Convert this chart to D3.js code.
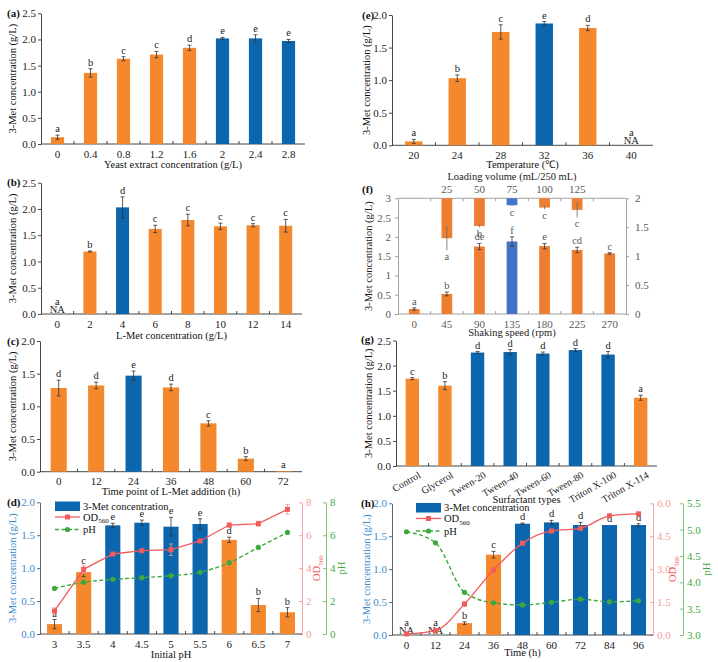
<!DOCTYPE html>
<html><head><meta charset="utf-8">
<script src="https://cdn.jsdelivr.net/npm/d3@7"></script>
<style>body{margin:0;background:#fff}</style>
</head><body>
<script>
// ---------------- data ----------------
const aCats=["0","0.4","0.8","1.2","1.6","2","2.4","2.8"];
const aVals=[0.13,1.36,1.63,1.71,1.84,2.02,2.02,1.97];
const aErrs=[0.04,0.08,0.04,0.06,0.05,0.02,0.07,0.03];
const aLetters=["a","b","c","c","d","e","e","e"];
const aOptimal=[0,0,0,0,0,1,1,1];

const bCats=["0","2","4","6","8","10","12","14"];
const bVals=[null,1.19,2.03,1.62,1.79,1.67,1.69,1.68];
const bErrs=[0,0.01,0.2,0.07,0.11,0.06,0.03,0.12];
const bLetters=["a","b","d","c","c","c","c","c"];
const bOptimal=[0,0,1,0,0,0,0,0];

const cCats=["0","12","24","36","48","60","72"];
const cVals=[1.28,1.32,1.47,1.29,0.74,0.20,0.01];
const cErrs=[0.12,0.05,0.07,0.05,0.04,0.03,0];
const cLetters=["d","d","e","d","c","b","a"];
const cOptimal=[0,0,1,0,0,0,0];

const dCats=["3","3.5","4","4.5","5","5.5","6","6.5","7"];
const dVals=[0.15,0.94,1.65,1.69,1.63,1.67,1.43,0.44,0.33];
const dErrs=[0.07,0.07,0.03,0.04,0.14,0.08,0.04,0.10,0.07];
const dLetters=["a","c","e","e","e","e","d","b","b"];
const dOptimal=[0,0,1,1,1,1,0,0,0];
const dOD=[1.40,3.93,4.86,5.06,5.12,5.65,6.62,6.70,7.57];
const dODErr=[0.2,0.25,0.05,0.05,0.35,0.05,0.08,0.15,0.3];
const dPH=[2.77,3.14,3.32,3.42,3.54,3.75,4.33,5.26,6.17];

const eCats=["20","24","28","32","36","40"];
const eVals=[0.06,1.03,1.74,1.87,1.80,null];
const eErrs=[0.03,0.05,0.11,0.03,0.04,0];
const eLetters=["a","b","c","e","d","a"];
const eOptimal=[0,0,0,1,0,0];

const fSpeedCats=["0","45","90","135","180","225","270"];
const fSpeedVals=[0.13,0.52,1.75,1.88,1.76,1.66,1.57];
const fSpeedErrs=[0.03,0.05,0.08,0.12,0.07,0.07,0.02];
const fSpeedLetters=["a","b","de","f","e","cd","c"];
const fSpeedOptimal=[0,0,0,1,0,0,0];
const fVolCats=["25","50","75","100","125"];
const fVolVals=[1.31,1.52,1.88,1.84,1.80];
const fVolErrs=[0.21,0.02,0.01,0.03,0.13];
const fVolLetters=["a","b","c","c","c"];
const fVolOptimal=[0,0,1,0,0];

const gCats=["Control","Glycerol","Tween-20","Tween-40","Tween-60","Tween-80","Triton X-100","Triton X-114"];
const gVals=[1.74,1.60,2.26,2.27,2.24,2.31,2.22,1.36];
const gErrs=[0.02,0.08,0.02,0.05,0.03,0.03,0.06,0.05];
const gLetters=["c","b","d","d","d","d","d","a"];
const gOptimal=[0,0,1,1,1,1,1,0];

const hCats=["0","12","24","36","48","60","72","84","96"];
const hVals=[null,null,0.18,1.22,1.69,1.71,1.67,1.67,1.67];
const hErrs=[0,0,0.02,0.05,0.01,0.03,0.04,0,0.02];
const hLetters=["a","a","b","c","d","d","d","d","d"];
const hOptimal=[0,0,0,0,1,1,1,1,1];
const hOD=[0.05,0.20,1.41,2.96,4.18,4.74,4.86,5.43,5.52];
const hODErr=[0.02,0.05,0.1,0.05,0.05,0.05,0.05,0.05,0.05];
const hPH=[4.96,4.75,3.81,3.61,3.57,3.62,3.68,3.63,3.65];

// ---------------- style ----------------
const ORANGE="#f5882c", BLUE="#0b66ad";
const XL_ORANGE="#ed7d31", XL_BLUE="#4472c4";
const RED="#f15b5b", RED_AX="#f59a9a", GREEN="#3ea83e", GREEN_AX="#6cbf6c", LBLUE="#3a8bcb";
const FONT="'Liberation Serif','Times New Roman',serif";

const svg=d3.select("body").append("svg").attr("width",718).attr("height",662)
  .style("font-family",FONT);

function styleAxis(sel,lineColor,textColor,fs){
  sel.selectAll("path,line").attr("stroke",lineColor).attr("stroke-width",0.9);
  sel.selectAll("text").attr("fill",textColor).style("font-size",fs+"px").style("font-family",FONT);
}
function label(x,y,t){
  svg.append("text").attr("x",x).attr("y",y).text(t).style("font-size","11px").style("font-weight","bold").attr("fill","#111");
}
function yTitle(x,y,t,color){
  svg.append("text").attr("transform",`translate(${x},${y}) rotate(-90)`).attr("text-anchor","middle")
    .attr("dominant-baseline","middle").style("font-size","10.5px").attr("fill",color||"#111").text(t);
}
function xTitle(x,y,t,color){
  svg.append("text").attr("x",x).attr("y",y).attr("text-anchor","middle").style("font-size","10.5px")
    .attr("fill",color||"#111").text(t);
}

function barsAndLabels(g,x,y,p,cats,vals,errs,letters,opt,frac,cOrange,cBlue,txtColor,bottom){
  const bw=x.bandwidth()*frac;
  cats.forEach((c,i)=>{
    const cx=x(c)+x.bandwidth()/2;
    const v=vals[i];
    if(v===null){
      g.append("text").attr("x",cx).attr("y",bottom-1.5).attr("text-anchor","middle").style("font-size","10.5px").attr("fill",txtColor).text("NA");
      g.append("text").attr("x",cx).attr("y",bottom-9).attr("text-anchor","middle").style("font-size","10.5px").attr("fill",txtColor).text(letters[i]);
      return;
    }
    g.append("rect").attr("x",cx-bw/2).attr("y",y(v)).attr("width",bw).attr("height",y(0)-y(v))
      .attr("fill",opt[i]?cBlue:cOrange);
    const e=errs[i];
    if(e>0){
      g.append("line").attr("x1",cx).attr("x2",cx).attr("y1",y(v-e)).attr("y2",y(v+e)).attr("stroke","#333").attr("stroke-width",0.8);
      [v-e,v+e].forEach(t=>g.append("line").attr("x1",cx-2).attr("x2",cx+2).attr("y1",y(t)).attr("y2",y(t)).attr("stroke","#333").attr("stroke-width",0.8));
    }
    g.append("text").attr("x",cx).attr("y",y(v+e)-3).attr("text-anchor","middle").style("font-size","10.5px")
      .attr("fill",txtColor).text(letters[i]);
  });
}

function bottomAxis(g,x,cats,bottom,left,right,color,textColor,fs,rotate){
  g.append("line").attr("x1",left).attr("x2",right).attr("y1",bottom).attr("y2",bottom).attr("stroke",color).attr("stroke-width",0.9);
  cats.slice(1).forEach(c=>g.append("line").attr("x1",x(c)).attr("x2",x(c)).attr("y1",bottom).attr("y2",bottom-3).attr("stroke",color).attr("stroke-width",0.9));
  cats.forEach(c=>{
    const cx=x(c)+x.bandwidth()/2;
    if(rotate){
      g.append("text").attr("transform",`translate(${cx+9},${bottom+11}) rotate(-30)`).attr("text-anchor","end")
        .style("font-size",fs+"px").attr("fill",textColor).text(c);
    } else {
      g.append("text").attr("x",cx).attr("y",bottom+13.5).attr("text-anchor","middle").style("font-size",fs+"px").attr("fill",textColor).text(c);
    }
  });
}

function simplePanel(p){
  const g=svg.append("g");
  const x=d3.scaleBand().domain(p.cats).range([p.left,p.right]);
  const y=d3.scaleLinear().domain(p.ydom).range([p.bottom,p.top]);
  const ya=g.append("g").attr("transform",`translate(${p.left},0)`)
    .call(d3.axisLeft(y).tickValues(p.yticks).tickFormat(d3.format(".1f")).tickSize(3).tickSizeOuter(0).tickPadding(2));
  styleAxis(ya,"#333","#222",11);
  bottomAxis(g,x,p.cats,p.bottom,p.left,p.right,"#333","#222",p.rotate?10:11,p.rotate);
  barsAndLabels(g,x,y,p,p.cats,p.vals,p.errs,p.letters,p.opt,p.frac,ORANGE,BLUE,"#222",p.bottom);
  label(p.lx,p.ly,p.label);
  yTitle(p.ytx,(p.top+p.bottom)/2,"3-Met concentration (g/L)");
  xTitle((p.left+p.right)/2,p.xty,p.xtitle);
}

simplePanel({cats:aCats,vals:aVals,errs:aErrs,letters:aLetters,opt:aOptimal,left:41,right:305,top:13.3,bottom:144,
  ydom:[0,2.5],yticks:[0,0.5,1,1.5,2,2.5],frac:0.4,label:"(a)",lx:7,ly:17,ytx:14,xty:168,xtitle:"Yeast extract concentration (g/L)"});
simplePanel({cats:bCats,vals:bVals,errs:bErrs,letters:bLetters,opt:bOptimal,left:41,right:302,top:182.7,bottom:314,
  ydom:[0,2.5],yticks:[0,0.5,1,1.5,2,2.5],frac:0.4,label:"(b)",lx:7,ly:186,ytx:14,xty:339,xtitle:"L-Met concentration (g/L)"});
simplePanel({cats:cCats,vals:cVals,errs:cErrs,letters:cLetters,opt:cOptimal,left:40,right:302,top:341,bottom:471.7,
  ydom:[0,2.0],yticks:[0,0.5,1,1.5,2],frac:0.43,label:"(c)",lx:7,ly:345,ytx:14,xty:495,xtitle:"Time point of L-Met addition (h)"});
simplePanel({cats:eCats,vals:eVals,errs:eErrs,letters:eLetters,opt:eOptimal,left:392,right:653,top:15,bottom:145.3,
  ydom:[0,2.0],yticks:[0,0.5,1,1.5,2],frac:0.4,label:"(e)",lx:362,ly:19,ytx:368,xty:168,xtitle:"Temperature (\u2103)"});
simplePanel({cats:gCats,vals:gVals,errs:gErrs,letters:gLetters,opt:gOptimal,left:396,right:657,top:340.5,bottom:466,
  ydom:[0,2.5],yticks:[0,0.5,1,1.5,2,2.5],frac:0.41,label:"(g)",lx:361,ly:343,ytx:370,xty:503,xtitle:"Surfactant types",rotate:true});

// ---------------- panel f ----------------
(function(){
  const L=398,R=626,T=198.3,B=314, AX="#999", TX="#595959";
  const g=svg.append("g");
  const x=d3.scaleBand().domain(fSpeedCats).range([L,R]);
  const st=x.step();
  const xt=d3.scaleBand().domain(fVolCats).range([L+st,R-st]);
  const y=d3.scaleLinear().domain([0,3]).range([B,T]);
  const yr=d3.scaleLinear().domain([0,2]).range([B,T]);
  const fmt=d=>String(d);
  const ya=g.append("g").attr("transform",`translate(${L},0)`).call(d3.axisLeft(y).tickValues([0,0.5,1,1.5,2,2.5,3]).tickFormat(fmt).tickSize(3).tickSizeOuter(0).tickPadding(4));
  styleAxis(ya,AX,TX,11);
  const yra=g.append("g").attr("transform",`translate(${R},0)`).call(d3.axisRight(yr).tickValues([0,0.5,1,1.5,2]).tickFormat(fmt).tickSize(3).tickSizeOuter(0).tickPadding(6));
  styleAxis(yra,AX,TX,11);
  bottomAxis(g,x,fSpeedCats,B,L,R,AX,TX,11,false);
  // top axis
  g.append("line").attr("x1",L).attr("x2",R).attr("y1",T).attr("y2",T).attr("stroke",AX).attr("stroke-width",0.9);
  fSpeedCats.slice(1).forEach(c=>g.append("line").attr("x1",x(c)).attr("x2",x(c)).attr("y1",T).attr("y2",T+3).attr("stroke",AX).attr("stroke-width",0.9));
  fVolCats.forEach(c=>g.append("text").attr("x",xt(c)+xt.bandwidth()/2).attr("y",T-5).attr("text-anchor","middle").style("font-size","11px").attr("fill",TX).text(c));
  barsAndLabels(g,x,y,null,fSpeedCats,fSpeedVals,fSpeedErrs,fSpeedLetters,fSpeedOptimal,0.33,XL_ORANGE,XL_BLUE,TX,B);
  // hanging bars (loading volume, right axis)
  const bw=x.bandwidth()*0.33;
  fVolCats.forEach((c,i)=>{
    const cx=xt(c)+xt.bandwidth()/2, v=fVolVals[i], e=fVolErrs[i];
    g.append("rect").attr("x",cx-bw/2).attr("y",yr(2)).attr("width",bw).attr("height",yr(v)-yr(2)).attr("fill",fVolOptimal[i]?XL_BLUE:XL_ORANGE);
    if(e>0){
      g.append("line").attr("x1",cx).attr("x2",cx).attr("y1",yr(v+e)).attr("y2",yr(v-e)).attr("stroke","#666").attr("stroke-width",0.8);
    }
    g.append("text").attr("x",cx).attr("y",yr(v-e)+10).attr("text-anchor","middle").style("font-size","10.5px").attr("fill",TX).text(fVolLetters[i]);
  });
  label(362,193,"(f)");
  yTitle(370,(T+B)/2,"3-Met concentration (g/L)","#222");
  xTitle((L+R)/2,335.5,"Shaking speed (rpm)","#222");
  xTitle((L+R)/2,179.5,"Loading volume (mL/250 mL)","#222");
})();

// ---------------- combo panels d, h ----------------
function comboPanel(p){
  const g=svg.append("g");
  const x=d3.scaleBand().domain(p.cats).range([p.left,p.right]);
  const y=d3.scaleLinear().domain([0,2]).range([p.bottom,p.top]);
  const yo=d3.scaleLinear().domain(p.odDom).range([p.bottom,p.top]);
  const yp=d3.scaleLinear().domain(p.phDom).range([p.bottom,p.top]);
  const ya=g.append("g").attr("transform",`translate(${p.left},0)`).call(d3.axisLeft(y).tickValues([0,0.5,1,1.5,2]).tickFormat(d3.format(".1f")).tickSize(3).tickSizeOuter(0).tickPadding(2));
  styleAxis(ya,"#555",LBLUE,11);
  const yoa=g.append("g").attr("transform",`translate(${p.right},0)`).call(d3.axisRight(yo).tickValues(p.odTicks).tickFormat(p.odFmt).tickSizeInner(-3).tickSizeOuter(0).tickPadding(4));
  styleAxis(yoa,RED_AX,RED_AX,11);
  const ypa=g.append("g").attr("transform",`translate(${p.phX},0)`).call(d3.axisRight(yp).tickValues(p.phTicks).tickFormat(p.phFmt).tickSizeInner(-3).tickSizeOuter(0).tickPadding(4));
  styleAxis(ypa,GREEN_AX,GREEN,11);
  bottomAxis(g,x,p.cats,p.bottom,p.left,p.right,"#333","#222",11,false);
  barsAndLabels(g,x,y,p,p.cats,p.vals,p.errs,p.letters,p.opt,p.frac,ORANGE,BLUE,"#222",p.bottom);
  const cx=c=>x(c)+x.bandwidth()/2;
  // OD line
  p.od.forEach((v,i)=>{const e=p.odErr[i]; if(e>0.04){
    g.append("line").attr("x1",cx(p.cats[i])).attr("x2",cx(p.cats[i])).attr("y1",yo(v-e)).attr("y2",yo(v+e)).attr("stroke",RED_AX).attr("stroke-width",0.8);
    [v-e,v+e].forEach(t=>g.append("line").attr("x1",cx(p.cats[i])-2).attr("x2",cx(p.cats[i])+2).attr("y1",yo(t)).attr("y2",yo(t)).attr("stroke",RED_AX).attr("stroke-width",0.8));
  }});
  g.append("path").datum(p.od).attr("fill","none").attr("stroke",RED).attr("stroke-width",1.3)
    .attr("d",d3.line().x((d,i)=>cx(p.cats[i])).y(d=>yo(d)).curve(p.odCurve));
  g.selectAll(null).data(p.od).join("rect").attr("x",(d,i)=>cx(p.cats[i])-2.5).attr("y",d=>yo(d)-2.5).attr("width",5).attr("height",5).attr("fill",RED);
  g.append("path").datum(p.ph).attr("fill","none").attr("stroke",GREEN).attr("stroke-width",1.4).attr("stroke-dasharray","4,2.5")
    .attr("d",d3.line().x((d,i)=>cx(p.cats[i])).y(d=>yp(d)).curve(d3.curveMonotoneX));
  g.selectAll(null).data(p.ph).join("circle").attr("cx",(d,i)=>cx(p.cats[i])).attr("cy",d=>yp(d)).attr("r",2.6).attr("fill",GREEN);
  // legend
  const lx=p.legX, lw=25;
  g.append("rect").attr("x",lx).attr("y",p.legY).attr("width",lw).attr("height",9.5).attr("fill",BLUE);
  g.append("text").attr("x",lx+lw+3).attr("y",p.legY+8).style("font-size","10.5px").attr("fill","#111").text("3-Met concentration");
  const y2=p.legY+15.5, y3=p.legY+28;
  g.append("line").attr("x1",lx).attr("x2",lx+lw).attr("y1",y2).attr("y2",y2).attr("stroke",RED).attr("stroke-width",1.3);
  g.append("rect").attr("x",lx+lw/2-2.5).attr("y",y2-2.5).attr("width",5).attr("height",5).attr("fill",RED);
  const t2=g.append("text").attr("x",lx+lw+3).attr("y",y2+3.5).style("font-size","10.5px").attr("fill","#111");
  t2.append("tspan").text("OD");
  t2.append("tspan").attr("dy",2.5).style("font-size","7px").text("560");
  g.append("line").attr("x1",lx).attr("x2",lx+lw).attr("y1",y3).attr("y2",y3).attr("stroke",GREEN).attr("stroke-width",1.4).attr("stroke-dasharray","4,2.5");
  g.append("circle").attr("cx",lx+lw/2).attr("cy",y3).attr("r",2.6).attr("fill",GREEN);
  g.append("text").attr("x",lx+lw+3).attr("y",y3+3.5).style("font-size","10.5px").attr("fill","#111").text("pH");
  // titles
  label(p.lx,p.ly,p.label);
  yTitle(p.ytx,(p.top+p.bottom)/2,"3-Met concentration (g/L)",LBLUE);
  const ot=svg.append("text").attr("transform",`translate(${p.odTX},${(p.top+p.bottom)/2}) rotate(-90)`).attr("text-anchor","middle")
    .attr("dominant-baseline","middle").style("font-size","10.5px").attr("fill",RED);
  ot.append("tspan").text("OD");
  ot.append("tspan").attr("dy",3).style("font-size","7px").text("560");
  yTitle(p.phTX,(p.top+p.bottom)/2,"pH",GREEN);
  xTitle((p.left+p.right)/2,p.xty,p.xtitle);
}

comboPanel({cats:dCats,vals:dVals,errs:dErrs,letters:dLetters,opt:dOptimal,od:dOD,odErr:dODErr,ph:dPH,
  left:40,right:302,top:502.3,bottom:634,phX:326,odDom:[0,8],odTicks:[0,2,4,6,8],odFmt:d3.format("d"),
  phDom:[0,8],phTicks:[0,2,4,6,8],phFmt:d3.format("d"),odCurve:d3.curveLinear,frac:0.52,
  legX:55,legY:501.5,label:"(d)",lx:7,ly:506,ytx:14,odTX:318,phTX:343,xty:658,xtitle:"Initial pH"});
comboPanel({cats:hCats,vals:hVals,errs:hErrs,letters:hLetters,opt:hOptimal,od:hOD,odErr:hODErr,ph:hPH,
  left:392,right:653,top:503.3,bottom:635,phX:683,odDom:[0,6],odTicks:[0,1.5,3,4.5,6],odFmt:d3.format(".1f"),
  phDom:[3,5.5],phTicks:[3,3.5,4,4.5,5,5.5],phFmt:d3.format(".1f"),odCurve:d3.curveMonotoneX,frac:0.52,
  legX:416,legY:503,label:"(h)",lx:361,ly:507,ytx:368,odTX:674,phTX:708,xty:656,xtitle:"Time (h)"});
</script>
</body></html>
